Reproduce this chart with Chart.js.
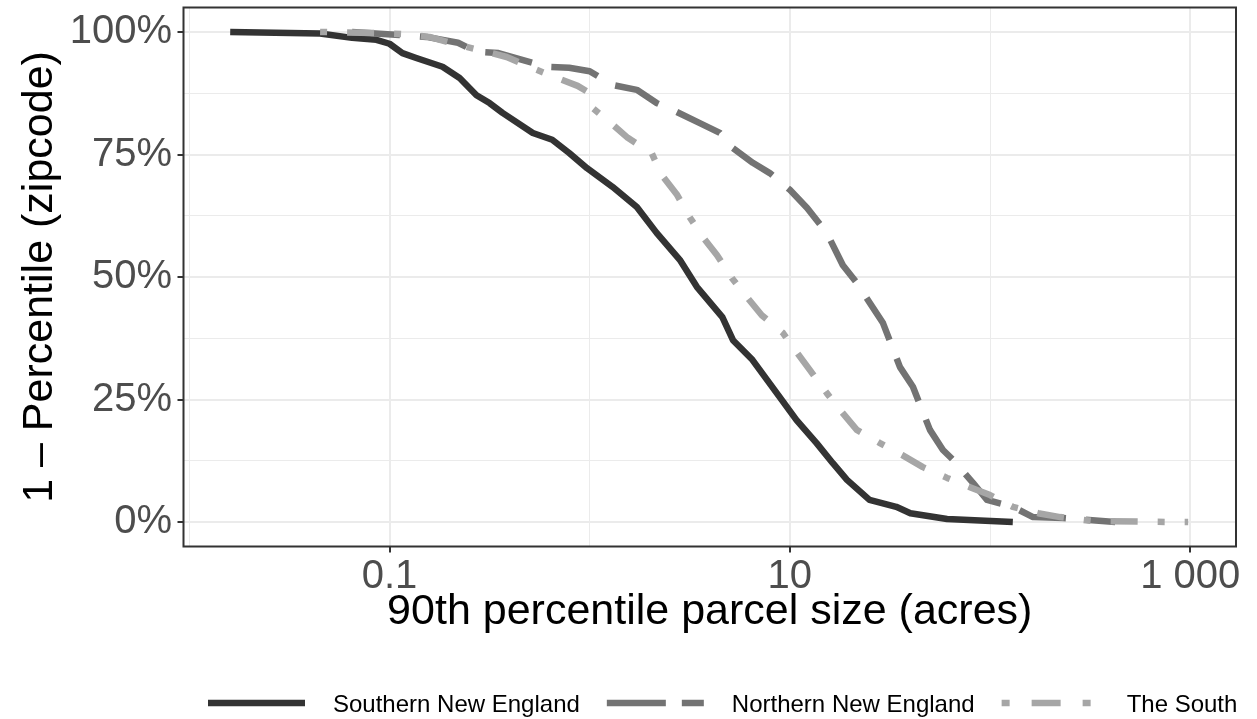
<!DOCTYPE html>
<html lang="en">
<head>
<meta charset="UTF-8">
<title>90th percentile parcel size by zipcode</title>
<script src="https://cdn.jsdelivr.net/npm/chart.js"></script>
<style>
  html, body { margin: 0; padding: 0; background: #ffffff; }
  #wrap { width: 1257px; height: 719px; }
</style>
</head>
<body>
<div id="wrap"><canvas id="chart" width="1257" height="719"></canvas></div>
<script>
// 90th percentile parcel size (acres) vs share of zipcodes above it
const seriesNames = ['Southern New England', 'Northern New England', 'The South'];
const seriesColors = ['#333333', '#737373', '#a6a6a6'];

const southernAcres = [0.016, 0.045, 0.065, 0.086, 0.1, 0.116, 0.136, 0.184, 0.224, 0.272, 0.316, 0.367,
  0.52, 0.65, 0.79, 0.97, 1.3, 1.72, 2.16, 2.82, 3.43, 4.6, 5.2, 6.5, 8.9, 10.8, 13.6, 16.4, 19.3,
  25, 34, 40, 61, 130];
const southernShare = [100, 99.7, 98.8, 98.4, 97.6, 95.7, 94.7, 92.9, 90.6, 87.1, 85.5, 83.5,
  79.4, 78, 75.3, 72.2, 68.4, 64.3, 59, 53.5, 48, 41.8, 37.1, 33.1, 25.5, 20.8, 16.1, 12, 8.6,
  4.5, 3.1, 1.8, 0.6, 0];

const northernAcres = [0.065, 0.112, 0.153, 0.22, 0.27, 0.35, 0.61, 0.79, 1.0, 1.3, 1.72, 2.16, 2.72,
  3.55, 4.47, 5.19, 6.53, 7.94, 10, 12.2, 15.3, 18.4, 21.6, 25.1, 29.2, 35.5, 41.2, 50.1, 58.2,
  65.3, 82.2, 96.6, 130, 164, 232, 422];
const northernShare = [100, 99.4, 99, 97.8, 96, 95.7, 92.9, 92.7, 92, 89.2, 88.2, 85.5, 83.7,
  81.4, 79.4, 76.3, 73.3, 71.2, 67.8, 64.1, 59, 52.4, 48.8, 44.7, 40.6, 31.6, 27.6, 18.8, 14.7,
  12.7, 8, 4.5, 3.1, 1, 0.8, 0];

const southAcres = [0.045, 0.086, 0.116, 0.158, 0.224, 0.282, 0.385, 0.513, 0.668, 0.871, 0.977, 1.02,
  1.26, 1.55, 2.04, 2.29, 2.72, 3.16, 3.67, 4.32, 5.13, 6.1, 7.24, 9.23, 10.8, 12.6, 15.3, 17.8,
  21.6, 28.2, 36.3, 46.2, 61, 79.4, 100, 130, 174, 224, 327, 822, 977];
const southShare = [100, 99.8, 99.6, 99, 97.3, 96.3, 94.9, 92.7, 90.8, 89, 87.8, 84.7,
  81.6, 78.4, 75.3, 70.8, 66.9, 62.2, 58.2, 54.5, 49.8, 45.9, 42.2, 38.6, 34.7, 31, 26.3, 22.9,
  18.8, 16.1, 13.7, 11.2, 9, 7.1, 5.5, 3.1, 1.8, 1, 0.2, 0, 0];

const xTicks = [0.1, 10, 1000];
const xTickLabels = ['0.1', '10', '1 000'];
const xMinor = [0.01, 1, 100];
const yTicks = [0, 25, 50, 75, 100];
const yTickLabels = ['0%', '25%', '50%', '75%', '100%'];
const yMinor = [12.5, 37.5, 62.5, 87.5];

const lineDashes = [[], [48, 20], [7, 20, 27, 20]];
const keyDashes = [[], [59, 16], [8, 22, 29, 22]];

const FONT = '"Liberation Sans", Arial, Helvetica, sans-serif';
Chart.defaults.font.family = FONT;

function toPoints(xs, ys) {
  return xs.map((x, i) => ({ x: x, y: ys[i] }));
}

const gridColor = '#ebebeb';

// panel border drawn over the lines, like a ggplot panel
const panelBorder = {
  id: 'panelBorder',
  afterDatasetsDraw(chart) {
    const a = chart.chartArea;
    const ctx = chart.ctx;
    ctx.save();
    ctx.strokeStyle = '#333333';
    ctx.lineWidth = 2;
    ctx.strokeRect(a.left, a.top, a.right - a.left, a.bottom - a.top);
    ctx.restore();
  }
};

// single-row legend under the x axis title
const bottomLegend = {
  id: 'bottomLegend',
  afterDraw(chart) {
    const ctx = chart.ctx;
    const y = 703;
    let x = 208;
    ctx.save();
    ctx.font = '24px ' + FONT;
    ctx.textBaseline = 'alphabetic';
    ctx.fillStyle = '#000000';
    chart.data.datasets.forEach((ds, i) => {
      ctx.beginPath();
      ctx.setLineDash(keyDashes[i]);
      ctx.lineCap = 'butt';
      ctx.lineWidth = ds.borderWidth;
      ctx.strokeStyle = ds.borderColor;
      ctx.moveTo(x, y);
      ctx.lineTo(x + 97, y);
      ctx.stroke();
      ctx.setLineDash([]);
      x += 97 + 28;
      ctx.fillText(ds.label, x, y + 8.5);
      x += ctx.measureText(ds.label).width + 27;
    });
    ctx.restore();
  }
};

const datasets = [
  { acres: southernAcres, share: southernShare },
  { acres: northernAcres, share: northernShare },
  { acres: southAcres, share: southShare }
].map((s, i) => ({
  label: seriesNames[i],
  data: toPoints(s.acres, s.share),
  borderColor: seriesColors[i],
  backgroundColor: seriesColors[i],
  borderWidth: 6.5,
  borderDash: lineDashes[i],
  borderCapStyle: 'butt',
  borderJoinStyle: 'round',
  pointRadius: 0,
  tension: 0,
  fill: false,
  order: 3 - i
}));

new Chart(document.getElementById('chart'), {
  type: 'line',
  data: { datasets: datasets },
  options: {
    responsive: false,
    animation: false,
    devicePixelRatio: 1,
    layout: { padding: { left: 0, top: 7.5, right: 21, bottom: 62 } },
    plugins: {
      legend: { display: false },
      tooltip: { enabled: false }
    },
    scales: {
      x: {
        type: 'logarithmic',
        min: 0.00935,
        max: 1694,
        afterBuildTicks: s => { s.ticks = xMinor.concat(xTicks).sort((a, b) => a - b).map(v => ({ value: v })); },
        afterFit: s => { s.height = 110.5; s.paddingLeft = 0; s.paddingRight = 0; },
        border: { display: false },
        grid: {
          color: gridColor,
          lineWidth: c => (c.tick && xTicks.includes(c.tick.value)) ? 2 : 1,
          tickLength: 6,
          tickWidth: 2,
          tickColor: c => (c.tick && xTicks.includes(c.tick.value)) ? '#333333' : 'rgba(0,0,0,0)'
        },
        ticks: {
          autoSkip: false,
          maxRotation: 0,
          padding: 0,
          color: '#4d4d4d',
          font: { size: 40 },
          callback: v => {
            const k = xTicks.indexOf(v);
            return k >= 0 ? xTickLabels[k] : '';
          }
        },
        title: {
          display: true,
          text: '90th percentile parcel size (acres)',
          color: '#000000',
          font: { size: 43 },
          padding: { top: 0, bottom: 19 }
        }
      },
      y: {
        type: 'linear',
        min: -5,
        max: 105,
        afterBuildTicks: s => { s.ticks = yMinor.concat(yTicks).sort((a, b) => a - b).map(v => ({ value: v })); },
        afterFit: s => { s.width = 183.5; s.paddingTop = 0; s.paddingBottom = 0; },
        border: { display: false },
        grid: {
          color: gridColor,
          lineWidth: c => (c.tick && yTicks.includes(c.tick.value)) ? 2 : 1,
          tickLength: 6,
          tickWidth: 2,
          tickColor: c => (c.tick && yTicks.includes(c.tick.value)) ? '#333333' : 'rgba(0,0,0,0)'
        },
        ticks: {
          autoSkip: false,
          padding: 5.5,
          color: '#4d4d4d',
          font: { size: 40 },
          callback: v => {
            const k = yTicks.indexOf(v);
            return k >= 0 ? yTickLabels[k] : '';
          }
        },
        title: {
          display: true,
          text: '1 \u2013 Percentile (zipcode)',
          color: '#000000',
          font: { size: 43 },
          padding: { top: 14, bottom: 0 }
        }
      }
    }
  },
  plugins: [panelBorder, bottomLegend]
});
</script>
</body>
</html>
